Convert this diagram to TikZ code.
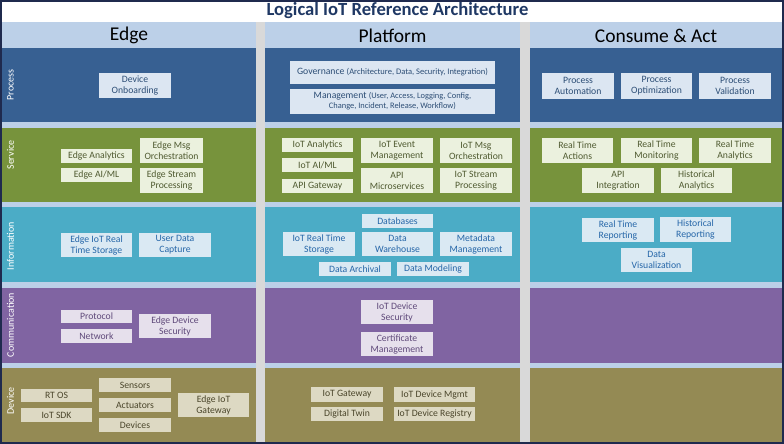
\documentclass[tikz,border=0pt]{standalone}
\usepackage{fontspec}
\setmainfont{Carlito}
\definecolor{frame}{HTML}{1F2A4E}
\definecolor{hdr}{HTML}{BCD0E8}
\definecolor{gapc}{HTML}{D9D9D9}
\definecolor{titlec}{HTML}{1F3864}
\definecolor{procC}{HTML}{376092}
\definecolor{svcC}{HTML}{77933C}
\definecolor{infC}{HTML}{4BACC6}
\definecolor{comC}{HTML}{8064A2}
\definecolor{devC}{HTML}{948A54}
\definecolor{procL}{HTML}{DCE6F2}
\definecolor{svcL}{HTML}{EBF1DE}
\definecolor{infL}{HTML}{DAE9F3}
\definecolor{comL}{HTML}{E6E0EC}
\definecolor{devL}{HTML}{DDD9C3}
\definecolor{procT}{HTML}{2C4D75}
\definecolor{svcT}{HTML}{4F5A30}
\definecolor{infT}{HTML}{2566A8}
\definecolor{comT}{HTML}{5F497A}
\definecolor{devT}{HTML}{4A452A}
\newcommand\bx[7]{\node[#1, minimum width={#4-#2}, minimum height={#5-#3}] (#6) at ({(#2+#4)/2},{(#3+#5)/2}) {#7};}
\begin{document}
\begin{tikzpicture}[x=1pt,y=-1pt,
  bx/.style={inner sep=0pt, align=center, font=\fontsize{9.7}{11}\selectfont},
  pbx/.style={bx, fill=procL, text=procT},
  sbx/.style={bx, fill=svcL, text=svcT},
  ibx/.style={bx, fill=infL, text=infT},
  cbx/.style={bx, fill=comL, text=comT},
  dbx/.style={bx, fill=devL, text=devT},
  rowlabel/.style={rotate=90, text=white, inner sep=0pt, font=\fontsize{10}{12}\selectfont},
  colhead/.style={inner sep=0pt, font=\fontsize{19.5}{21}\selectfont}]
\useasboundingbox (0,0) rectangle (784,444);
\fill[frame] (0,0) rectangle (784,444);
\fill[white] (2,2) rectangle (782,22);
\fill[hdr] (2,22) rectangle (782,442);
\fill[gapc] (256,22) rectangle (265,442);
\fill[gapc] (520,22) rectangle (530,442);
\foreach \ya/\yb/\c in {48/122/procC,128/202/svcC,207/282/infC,288/363/comC,368/442/devC}{
  \foreach \xa/\xb in {2/256,265/520,530/782}{
    \fill[\c] (\xa,\ya) rectangle (\xb,\yb);
  }
}
% title and headers
\node[inner sep=0pt, text=titlec, font=\fontsize{18.6}{20}\selectfont\bfseries] (title) at (397.5,11) {Logical IoT Reference Architecture};
\node[colhead] (hedge) at (129,35.5) {Edge};
\node[colhead] (hplat) at (392.5,35.5) {Platform};
\node[colhead] (hcons) at (656,35.5) {Consume \& Act};
% row labels
\node[rowlabel] (lproc) at (10.5,85) {Process};
\node[rowlabel] (lsvc) at (10.5,155) {Service};
\node[rowlabel] (linf) at (10.5,246) {Information};
\node[rowlabel] (lcom) at (10.5,325) {Communication};
\node[rowlabel] (ldev) at (10.5,401) {Device};
% Process
\bx{pbx}{99}{73}{171}{98}{onb}{Device\\Onboarding}
\bx{pbx}{290}{61}{495}{84}{gov}{Governance {\fontsize{8.5}{9}\selectfont(Architecture, Data, Security, Integration)}}
\bx{pbx}{290}{89}{495}{114}{mgmt}{Management {\fontsize{8.4}{9.5}\selectfont(User, Access, Logging, Config,}\\[-1pt]{\fontsize{8.4}{9.5}\selectfont Change, Incident, Release, Workflow)}}
\bx{pbx}{542}{73}{614}{99}{pauto}{Process\\Automation}
\bx{pbx}{621}{73}{692}{99}{popt}{Process\\Optimization}
\bx{pbx}{699}{73}{771}{99}{pval}{Process\\Validation}
% Service
\bx{sbx}{61}{149}{132}{163}{ean}{Edge Analytics}
\bx{sbx}{61}{168}{132}{182}{eai}{Edge AI/ML}
\bx{sbx}{140}{138}{203}{163}{emsg}{Edge Msg\\Orchestration}
\bx{sbx}{140}{168}{203}{193}{estr}{Edge Stream\\Processing}
\bx{sbx}{282}{138}{353}{152}{ian}{IoT Analytics}
\bx{sbx}{282}{158}{353}{172}{iai}{IoT AI/ML}
\bx{sbx}{282}{179}{353}{193}{apig}{API Gateway}
\bx{sbx}{361}{138}{433}{163}{iev}{IoT Event\\Management}
\bx{sbx}{361}{168}{433}{193}{apim}{API\\Microservices}
\bx{sbx}{440}{138}{512}{163}{imsg}{IoT Msg\\Orchestration}
\bx{sbx}{440}{168}{512}{193}{istr}{IoT Stream\\Processing}
\bx{sbx}{542}{138}{613}{163}{rta}{Real Time\\Actions}
\bx{sbx}{621}{138}{692}{163}{rtm}{Real Time\\Monitoring}
\bx{sbx}{699}{138}{771}{163}{rtan}{Real Time\\Analytics}
\bx{sbx}{582}{168}{654}{193}{apii}{API\\Integration}
\bx{sbx}{661}{168}{732}{193}{hia}{Historical\\Analytics}
% Information
\bx{ibx}{61}{233}{132}{257}{ertst}{Edge IoT Real\\Time Storage}
\bx{ibx}{139}{233}{211}{257}{udc}{User Data\\Capture}
\bx{ibx}{362}{214}{433}{228}{dbs}{Databases}
\bx{ibx}{283}{232}{355}{256}{irts}{IoT Real Time\\Storage}
\bx{ibx}{362}{232}{433}{256}{dwh}{Data\\Warehouse}
\bx{ibx}{440}{232}{512}{256}{mdm}{Metadata\\Management}
\bx{ibx}{319}{262}{391}{276}{darc}{Data Archival}
\bx{ibx}{397}{262}{469}{276}{dmod}{Data Modeling}
\bx{ibx}{582}{218}{654}{242}{rtr}{Real Time\\Reporting}
\bx{ibx}{660}{217}{731}{242}{hir}{Historical\\Reporting}
\bx{ibx}{621}{248}{692}{272}{dvis}{Data\\Visualization}
% Communication
\bx{cbx}{61}{310}{132}{323}{prot}{Protocol}
\bx{cbx}{61}{329}{132}{343}{netw}{Network}
\bx{cbx}{139}{314}{211}{338}{eds}{Edge Device\\Security}
\bx{cbx}{361}{300}{433}{324}{ids}{IoT Device\\Security}
\bx{cbx}{361}{332}{433}{356}{cert}{Certificate\\Management}
% Device
\bx{dbx}{21}{389}{92}{402}{rtos}{RT OS}
\bx{dbx}{21}{408}{92}{422}{isdk}{IoT SDK}
\bx{dbx}{99}{378}{171}{392}{sens}{Sensors}
\bx{dbx}{99}{398}{171}{412}{act}{Actuators}
\bx{dbx}{99}{418}{171}{432}{devs}{Devices}
\bx{dbx}{178}{393}{249}{417}{eigw}{Edge IoT\\Gateway}
\bx{dbx}{311}{387}{383}{402}{igw}{IoT Gateway}
\bx{dbx}{311}{407}{383}{421}{dtw}{Digital Twin}
\bx{dbx}{394}{387}{475}{402}{idm}{IoT Device Mgmt}
\bx{dbx}{394}{407}{475}{421}{idr}{IoT Device Registry}
\end{tikzpicture}
\end{document}
